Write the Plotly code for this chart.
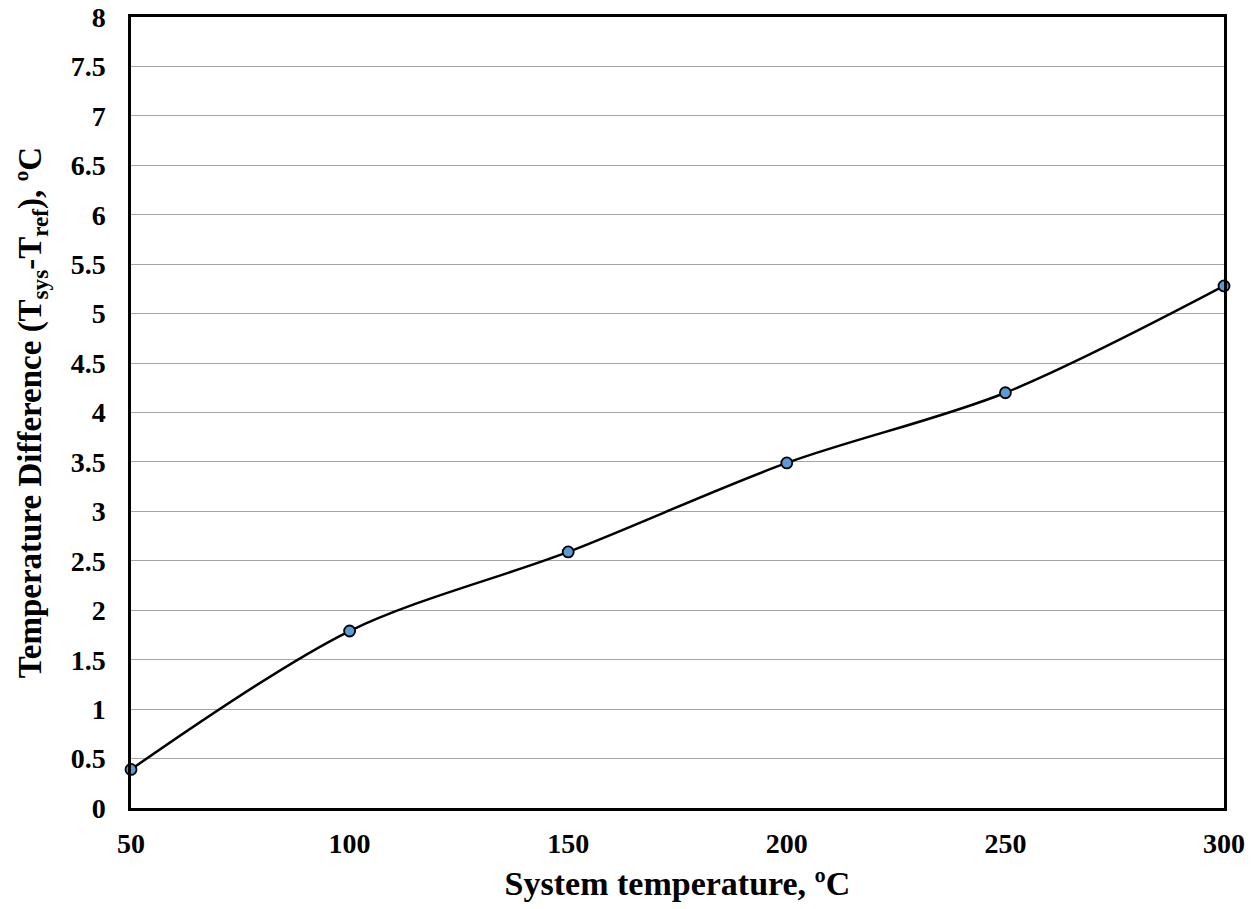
import plotly.graph_objects as go

system_temp = [50, 100, 150, 200, 250, 300]
temp_diff = [0.39, 1.79, 2.59, 3.49, 4.2, 5.28]

y_ticks = [0, 0.5, 1, 1.5, 2, 2.5, 3, 3.5, 4, 4.5, 5, 5.5, 6, 6.5, 7, 7.5, 8]
x_ticks = [50, 100, 150, 200, 250, 300]

font_family = "Liberation Serif"

fig = go.Figure()
fig.add_trace(go.Scatter(
    x=system_temp, y=temp_diff,
    mode="lines+markers",
    line=dict(shape="spline", smoothing=0.9, color="black", width=2.5),
    marker=dict(size=11, color="#5B9BD5", line=dict(color="black", width=1.8)),
    cliponaxis=False,
    showlegend=False,
))

fig.update_layout(
    width=1255, height=909,
    margin=dict(l=123, r=39, t=9, b=109),
    paper_bgcolor="white", plot_bgcolor="white",
    font=dict(family=font_family, size=20, color="black"),
    xaxis=dict(
        range=[50, 300], tickvals=x_ticks,
        ticktext=[f"<b>{v}</b>" for v in x_ticks],
        showgrid=False, zeroline=False, automargin=False,
        showline=True, linecolor="black", linewidth=2.5, mirror=True,
        ticks="", ticklen=0, ticklabelstandoff=9,
        ticklabeloverflow="allow",
        tickfont=dict(family=font_family, size=28),
        title=dict(text="<b>System temperature, ºC</b>",
                   font=dict(family=font_family, size=34), standoff=13),
    ),
    yaxis=dict(
        range=[0, 8], tickvals=y_ticks,
        ticktext=[f"<b>{v:g}</b>" for v in y_ticks],
        showgrid=True, gridcolor="#A6A6A6", gridwidth=1.2,
        zeroline=False, automargin=False,
        showline=True, linecolor="black", linewidth=2.5, mirror=True,
        ticks="", ticklen=0, ticklabelstandoff=17,
        ticklabeloverflow="allow",
        tickfont=dict(family=font_family, size=28),
        title=dict(text="<b>Temperature Difference (T<sub>sys</sub>-T<sub>ref</sub>), ºC</b>",
                   font=dict(family=font_family, size=33), standoff=20),
    ),
)

fig.write_html("out.html")
